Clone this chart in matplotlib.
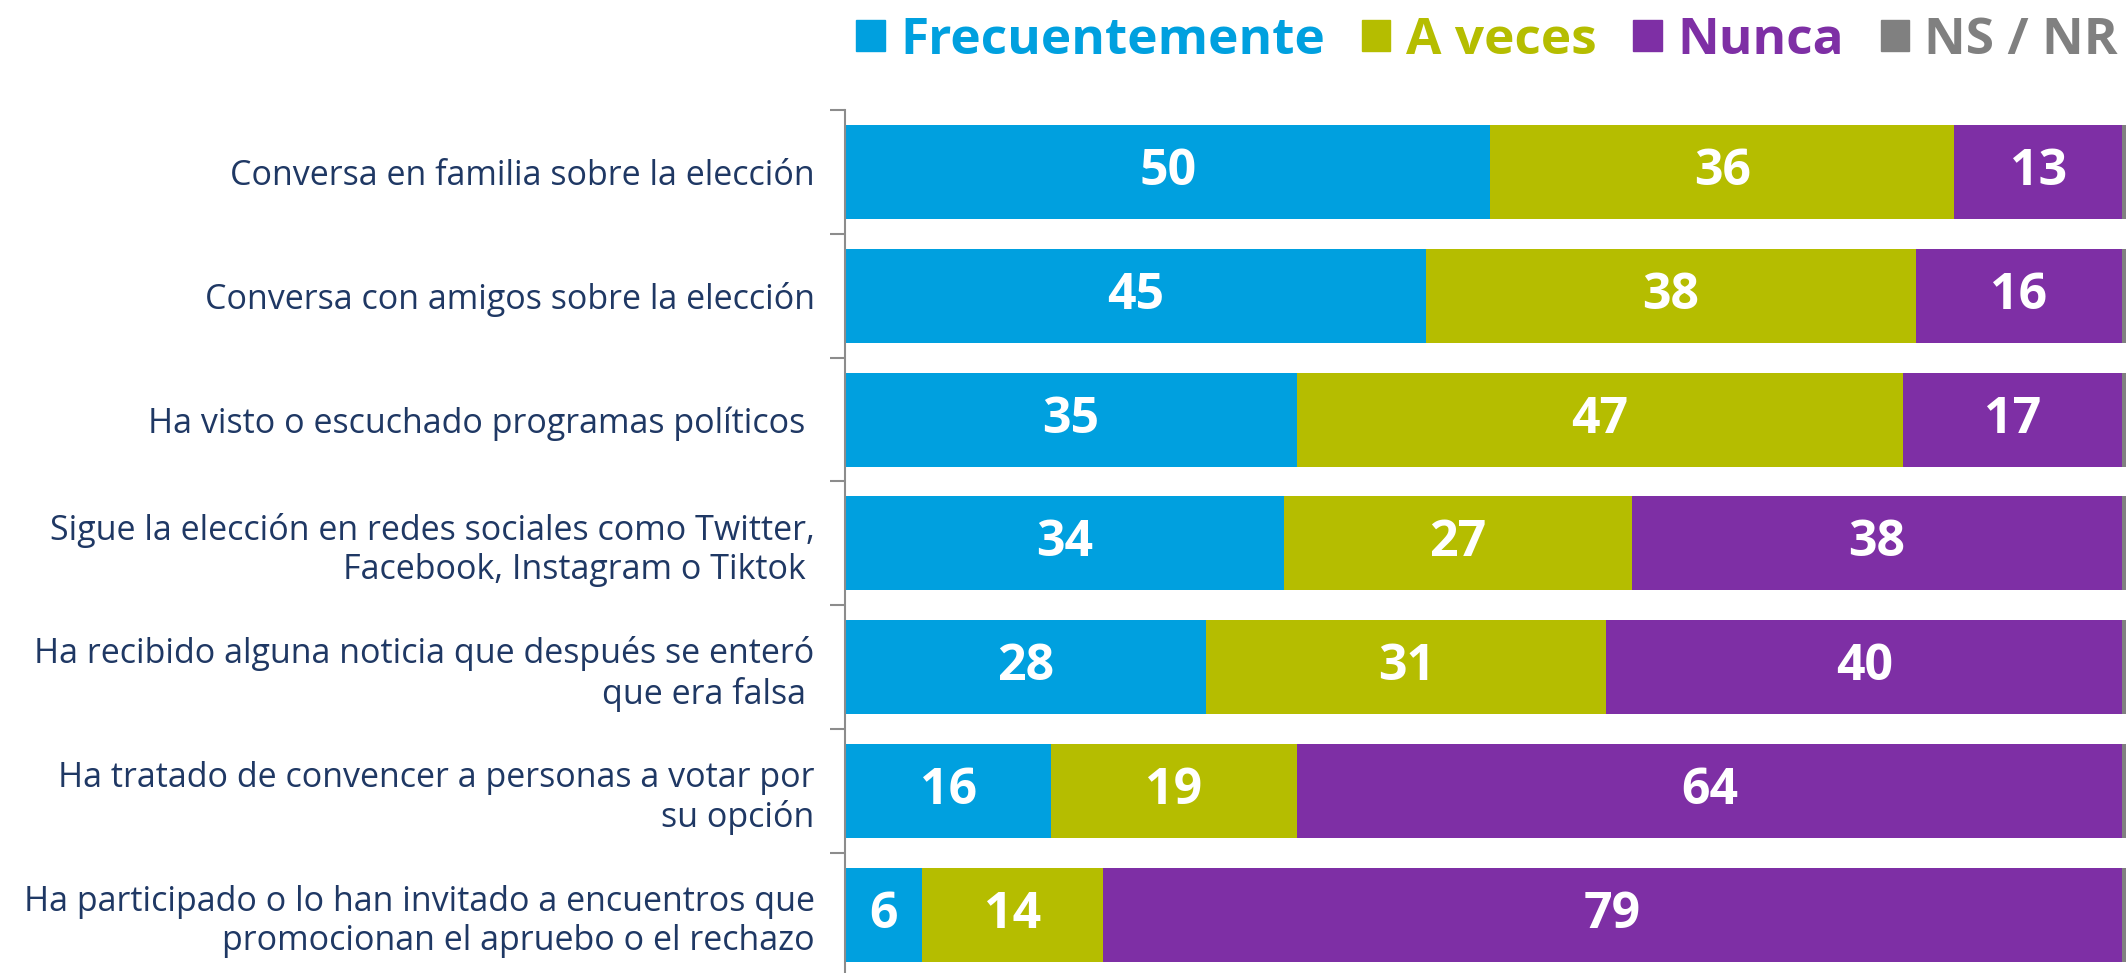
import matplotlib.pyplot as plt
from matplotlib.patches import Patch

# datos
categorias = [
    "Conversa en familia sobre la elección",
    "Conversa con amigos sobre la elección",
    "Ha visto o escuchado programas políticos ",
    "Sigue la elección en redes sociales como Twitter,\nFacebook, Instagram o Tiktok ",
    "Ha recibido alguna noticia que después se enteró\nque era falsa ",
    "Ha tratado de convencer a personas a votar por\nsu opción",
    "Ha participado o lo han invitado a encuentros que\npromocionan el apruebo o el rechazo",
]
frecuentemente = [50, 45, 35, 34, 28, 16, 6]
a_veces = [36, 38, 47, 27, 31, 19, 14]
nunca = [13, 16, 17, 38, 40, 64, 79]
ns_nr = [1, 1, 1, 1, 1, 1, 1]

series = ["Frecuentemente", "A veces", "Nunca", "NS / NR"]
colores = ["#00A0DF", "#B5BD00", "#7E2FA5", "#808080"]

plt.rcParams['font.family'] = ['Open Sans', 'DejaVu Sans']

fig = plt.figure(figsize=(21.26, 9.73), dpi=100)
ax = fig.add_axes([0.3975, -0.004, 0.6025, 0.891])

y = list(range(len(categorias)))
left = [0] * len(y)
for vals, col in zip([frecuentemente, a_veces, nunca, ns_nr], colores):
    bars = ax.barh(y, vals, left=left, color=col, height=0.76)
    if col != colores[3]:
        for b, v in zip(bars, vals):
            ax.text(b.get_x() + b.get_width() / 2, b.get_y() + b.get_height() / 2,
                    str(v), ha="center", va="center", color="white",
                    fontsize=36, fontweight="bold")
    left = [l + v for l, v in zip(left, vals)]

ax.set_xlim(0, 99.3)
ax.set_ylim(6.5, -0.5)
ax.set_yticks(y)
ax.set_yticklabels(categorias, fontsize=24.5, color="#1F3864")
ax.set_yticks([i - 0.5 for i in range(len(y) + 1)], minor=True)
ax.tick_params(axis="y", which="major", length=0, pad=22)
ax.tick_params(axis="y", which="minor", length=11, color="#8C8C8C", width=1.5)
ax.set_xticks([])
for s in ["top", "right", "bottom"]:
    ax.spines[s].set_visible(False)
ax.spines["left"].set_color("#8C8C8C")
ax.spines["left"].set_linewidth(1.5)

handles = [Patch(color=c) for c in colores]
leg = fig.legend(handles, series, loc="upper right", bbox_to_anchor=(1.018, 1.031),
                 ncol=4, frameon=False, handlelength=0.55, handleheight=0.55,
                 handletextpad=0.3, columnspacing=0.72,
                 prop={"size": 37, "weight": "bold"})
for t, c in zip(leg.get_texts(), colores):
    t.set_color(c)

fig.savefig("out.png", dpi=100)
